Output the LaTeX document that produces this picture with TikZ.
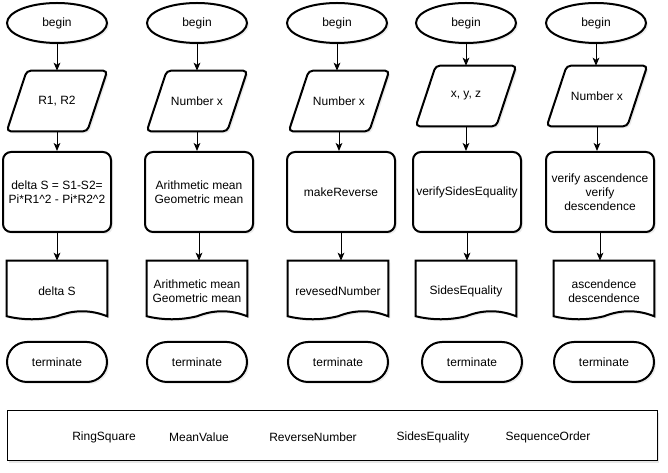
\documentclass[tikz,border=0pt]{standalone}
\usepackage{fontspec}
\setmainfont{Liberation Sans}
\usepackage{tikz}
\usetikzlibrary{shapes,arrows,arrows.meta,calc,shadows}

% wavy outline of a document node
\newcommand{\docwave}[1]{%
  \draw[line width=1.5pt, fill=white,
    drop shadow={shadow xshift=1.5pt, shadow yshift=-1.5pt, opacity=.15}]
    ($(#1.south west)+(0,3.75pt)$) -- (#1.north west) -- (#1.north east)
    -- ($(#1.south east)+(0,3.75pt)$)
    .. controls ($(#1.south west)!0.8333!(#1.south east)+(0,8.75pt)$)
    and ($(#1.south west)!0.6667!(#1.south east)+(0,8.75pt)$)
    .. ($(#1.south)+(0,3.75pt)$)
    .. controls ($(#1.south west)!0.3333!(#1.south east)+(0,0.75pt)$)
    and ($(#1.south west)!0.1667!(#1.south east)+(0,0.75pt)$)
    .. ($(#1.south west)+(0,3.75pt)$) -- cycle;}
% slanted outline of an input node
\newcommand{\slantbox}[1]{%
  \draw[line width=1.5pt, fill=white, rounded corners=3pt,
    drop shadow={shadow xshift=1.5pt, shadow yshift=-1.5pt, opacity=.15}]
    (#1.south west) -- ($(#1.north west)+(15pt,0)$) -- (#1.north east)
    -- ($(#1.south east)+(-15pt,0)$) -- cycle;}

\begin{document}
\begin{tikzpicture}[x=0.75pt, y=-0.75pt, node distance=60pt,
  >={Stealth[length=6pt, width=5pt, inset=1.5pt]},
  font=\fontsize{9}{10.5}\selectfont]
\tikzset{outline/.style = {draw, line width=1.5pt, fill=white,
  drop shadow={shadow xshift=1.5pt, shadow yshift=-1.5pt, opacity=.15}},
  startstop/.style = {outline, ellipse, minimum width=75pt,
  minimum height=30pt, inner sep=0pt},
  io/.style = {minimum width=75pt, minimum height=45pt, inner sep=0pt},
  process/.style = {outline, rectangle, rounded corners=6pt,
  minimum width=81pt, minimum height=60pt, align=center, inner sep=2pt},
  docbox/.style = {minimum width=75pt, minimum height=45pt,
  align=center, inner sep=0pt},
  terminal/.style = {outline, rectangle, rounded corners=15pt,
  minimum width=75pt, minimum height=30pt},
  flow/.style = {->, line width=.75pt}}
\pgfdeclarelayer{background}
\pgfsetlayers{background,main}

  \useasboundingbox (0,0) rectangle (668,473);

  % RingSquare
  \node[startstop] (begin1) at (57,23) {begin};
  \node[io, node distance=58.5pt, below of=begin1] (input1) {R1, R2};
  \node[process, node distance=68.25pt, below of=input1]
    (calc1) {delta S = S1-S2=\\Pi*R1\textasciicircum 2 - Pi*R2\textasciicircum 2};
  \node[docbox, node distance=74.25pt, below of=calc1] (output1) {delta S};
  \node[terminal, node distance=53.25pt, below of=output1]
    (end1) {terminate};

  % MeanValue
  \node[startstop] (begin2) at (197,23) {begin};
  \node[io, node distance=58.5pt, below of=begin2] (input2) {Number x};
  \node[process, node distance=68.25pt, below of=input2, xshift=1.5pt]
    (calc2) {Arithmetic mean\\Geometric mean};
  \node[docbox, node distance=74.25pt, below of=calc2, xshift=-1.5pt]
    (output2) {Arithmetic mean\\Geometric mean};
  \node[terminal, node distance=53.25pt, below of=output2]
    (end2) {terminate};

  % ReverseNumber
  \node[startstop] (begin3) at (337,23) {begin};
  \node[io, node distance=58.5pt, below of=begin3, xshift=1.5pt]
    (input3) {Number x};
  \node[process, node distance=68.25pt, below of=input3, xshift=1.5pt]
    (calc3) {makeReverse};
  \node[docbox, node distance=74.25pt, below of=calc3, xshift=-2.25pt]
    (output3) {revesedNumber};
  \node[terminal, node distance=53.25pt, below of=output3]
    (end3) {terminate};

  % SidesEquality
  \node[startstop] (begin4) at (466,23) {begin};
  \node[io, node distance=54.75pt, below of=begin4] (input4) {x, y, z};
  \node[process, node distance=72pt, below of=input4, xshift=.75pt]
    (calc4) {verifySidesEquality};
  \node[docbox, node distance=74.25pt, below of=calc4, xshift=-.75pt]
    (output4) {SidesEquality};
  \node[terminal, node distance=53.25pt, below of=output4, xshift=4.5pt]
    (end4) {terminate};

  % SequenceOrder
  \node[startstop] (begin5) at (596,23) {begin};
  \node[io, node distance=54.75pt, below of=begin5, xshift=.75pt]
    (input5) {Number x};
  \node[process, node distance=72pt, below of=input5, xshift=2.25pt]
    (calc5) {verify ascendence\\verify\\descendence};
  \node[docbox, node distance=74.25pt, below of=calc5, xshift=3pt]
    (output5) {ascendence\\descendence};
  \node[terminal, node distance=53.25pt, below of=output5]
    (end5) {terminate};

  \begin{pgfonlayer}{background}
    \slantbox{input1}
    \slantbox{input2}
    \slantbox{input3}
    \slantbox{input4}
    \slantbox{input5}
    \docwave{output1}
    \docwave{output2}
    \docwave{output3}
    \docwave{output4}
    \docwave{output5}
  \end{pgfonlayer}

  \draw[flow] (begin1) -- (begin1 |- input1.north);
  \draw[flow] (input1) -- (input1 |- calc1.north);
  \draw[flow] (calc1) -- (calc1 |- output1.north);
  \draw[flow] (begin2) -- (begin2 |- input2.north);
  \draw[flow] (input2) -- (input2 |- calc2.north);
  \draw[flow] (calc2) -- (calc2 |- output2.north);
  \draw[flow] (begin3) -- (begin3 |- input3.north);
  \draw[flow] (input3) -- (input3 |- calc3.north);
  \draw[flow] (calc3) -- (calc3 |- output3.north);
  \draw[flow] (begin4) -- (begin4 |- input4.north);
  \draw[flow] (input4) -- (input4 |- calc4.north);
  \draw[flow] (calc4) -- (calc4 |- output4.north);
  \draw[flow] (begin5) -- (begin5 |- input5.north);
  \draw[flow] (input5) -- (input5 |- calc5.north);
  \draw[flow] (calc5) -- (calc5 |- output5.north);

  % legend of the programs
  \node[draw, line width=.75pt, fill=white, minimum width=487.5pt,
    minimum height=37.5pt,
    drop shadow={shadow xshift=1.5pt, shadow yshift=-1.5pt, opacity=.2}]
    (programs) at (332,436) {};
  \node (ringsquare) at (104,437) {RingSquare};
  \node (meanvalue) at (199,437) {MeanValue};
  \node (reversenumber) at (313,437) {ReverseNumber};
  \node (sidesequality) at (433,437) {SidesEquality};
  \node (sequenceorder) at (548,437) {SequenceOrder};

\end{tikzpicture}
\end{document}
